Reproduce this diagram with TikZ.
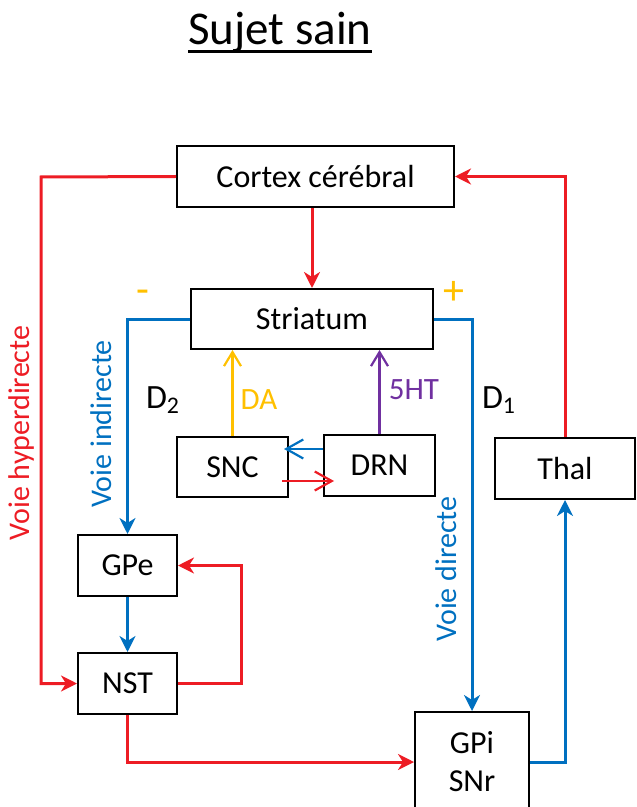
\documentclass[tikz,border=0pt]{standalone}
\usepackage{fontspec}
\setmainfont{Carlito}
\usetikzlibrary{arrows.meta}
\definecolor{bgred}{HTML}{ED1C24}
\definecolor{bgblue}{HTML}{0070C0}
\definecolor{bgyellow}{HTML}{FFC000}
\definecolor{bgpurple}{HTML}{7030A0}
\newcommand{\souligne}[1]{\setbox0=\hbox{#1}\rlap{\rule[-4.1pt]{\wd0}{1.5pt}}\box0}

\begin{document}
\begin{tikzpicture}[x=0.5pt, y=-0.5pt, every node/.style={font=\fontsize{16}{19}\selectfont},
    box/.style={rectangle, draw=black, line width=1pt, fill=white, inner sep=0pt},
    voie/.style={line width=1.5pt, -{Stealth[length=8pt, width=8pt, inset=2.5pt]}},
    fleche/.style={line width=1.1pt, -{Straight Barb[length=7pt, width=8.5pt]}},
    label/.style={font=\fontsize{15}{18}\selectfont, rotate=90}]
    \useasboundingbox (0,0) rectangle (636,807);

    \node[font=\fontsize{23.5}{28}\selectfont, anchor=base] (titre) at (280,45) {\souligne{Sujet sain}};

    \node[box, minimum width=138.5pt, minimum height=30.5pt] (cortex) at (315.5,176.5) {Cortex cérébral};
    \node[box, minimum width=121pt, minimum height=30pt] (striatum) at (312,319) {Striatum};
    \node[box, minimum width=55.5pt, minimum height=30pt] (snc) at (232.5,467) {SNC};
    \node[box, minimum width=55.5pt, minimum height=30.5pt] (drn) at (379.5,465.5) {DRN};
    \node[box, minimum width=70pt, minimum height=30.5pt] (thal) at (565,468.5) {Thal};
    \node[box, minimum width=49.5pt, minimum height=30.5pt] (gpe) at (127.5,565.5) {GPe};
    \node[box, minimum width=49.5pt, minimum height=30.5pt] (nst) at (127.5,683.5) {NST};
    \node[box, minimum width=57pt, minimum height=50pt, align=center] (gpi) at (472,762) {GPi\\SNr};

    \coordinate (hyper) at (41,177);
    \coordinate (boucle) at (241,620);

    \draw[voie, bgred] (striatum.north |- cortex.south) -- (striatum.north);
    \draw[voie, bgred] (cortex.west) -- (hyper) |- (nst.west);
    \draw[voie, bgred] (thal.north) |- (cortex.east);
    \draw[voie, bgblue] (striatum.west) -| (gpe.north);
    \draw[voie, bgblue] (striatum.east) -| (gpi.north);
    \draw[voie, bgblue] (gpe) -- (nst);
    \draw[voie, bgred] (nst.east) -| (boucle) |- (gpe.east);
    \draw[voie, bgred] (nst.south) |- (gpi.west);
    \draw[voie, bgblue] (gpi.east) -| (thal.south);

    \draw[fleche, bgyellow] (snc.north) -- (snc.north |- striatum.south);
    \draw[fleche, bgpurple] (drn.north) -- (drn.north |- striatum.south);
    \draw[fleche, bgblue, -{Straight Barb[length=8.5pt, width=9.5pt]}] ([yshift=8.25pt]drn.west) -- ([xshift=-2.5pt, yshift=9pt]snc.east);
    \draw[fleche, bgred, -{Straight Barb[length=8.5pt, width=9.5pt]}] ([xshift=-3.5pt, yshift=-7pt]snc.east) -- ([xshift=5.5pt, yshift=-7.75pt]drn.west);

    % signes et noms des voies
    \node[text=bgyellow, font=\fontsize{21}{24}\selectfont] (moins) at (143,297) {-};
    \node[text=bgyellow, font=\fontsize{21}{24}\selectfont] (plus) at (454,293) {+};
    \node[font=\fontsize{17}{20}\selectfont] (dtwo) at (163,400) {D\textsubscript{2}};
    \node[font=\fontsize{17}{20}\selectfont] (done) at (499,400) {D\textsubscript{1}};
    \node[text=bgyellow, font=\fontsize{15.5}{18}\selectfont] (da) at (259,400) {DA};
    \node[text=bgpurple, font=\fontsize{15.5}{18}\selectfont] (ht) at (414,390) {5HT};
    \node[label, text=bgred] (vhyper) at (22,433) {Voie hyperdirecte};
    \node[label, text=bgblue] (vindir) at (101,424) {Voie indirecte};
    \node[label, text=bgblue] (vdir) at (446,569) {Voie directe};
\end{tikzpicture}
\end{document}
